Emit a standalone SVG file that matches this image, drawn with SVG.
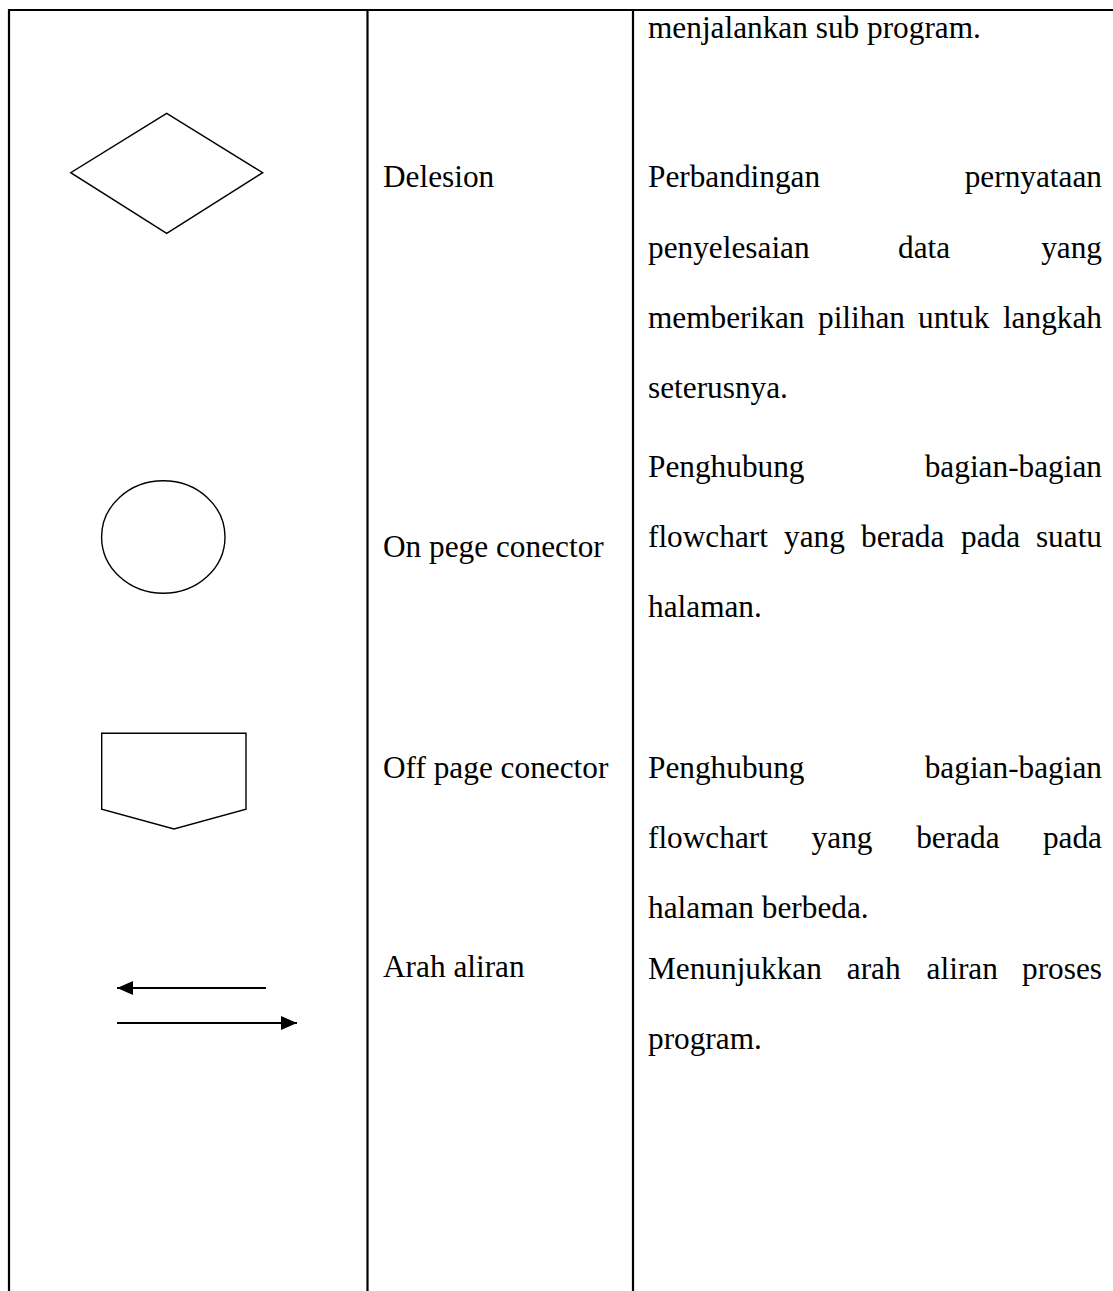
<svg xmlns="http://www.w3.org/2000/svg" width="1113" height="1291" viewBox="0 0 1113 1291">
  <style>
    .rule { stroke: #000; stroke-width: 2.2; fill: none; }
    .shape { stroke: #000; stroke-width: 1.4; fill: #fff; }
    .flow { stroke: #000; stroke-width: 2; fill: none; }
    text { font-family: "Liberation Serif", "Times New Roman", serif; font-size: 31.3px; fill: #000; }
    .r { text-anchor: end; }
  </style>
  <defs>
    <marker id="head" viewBox="0 0 16 14" refX="16" refY="7" markerWidth="16" markerHeight="14" markerUnits="userSpaceOnUse" orient="auto">
      <path d="M0,0 L16,7 L0,14 Z" fill="#000"/>
    </marker>
  </defs>

  <!-- table rules -->
  <g id="table">
    <line class="rule" x1="8" y1="10" x2="1113" y2="10"/>
    <line class="rule" x1="9" y1="9" x2="9" y2="1291"/>
    <line class="rule" x1="367.5" y1="9" x2="367.5" y2="1291"/>
    <line class="rule" x1="633" y1="9" x2="633" y2="1291"/>
  </g>

  <!-- carried-over description -->
  <g id="row-subprogram">
    <text x="648" y="38">menjalankan sub program.</text>
  </g>

  <!-- decision -->
  <g id="row-decision">
    <polygon class="shape" points="166.7,113.3 262.7,172.7 166.7,233.3 70.7,172.7"/>
    <text x="383" y="187">Delesion</text>
    <text x="648" y="187">Perbandingan</text>
    <text class="r" x="1102" y="187">pernyataan</text>
    <text x="648" y="258">penyelesaian</text>
    <text x="898" y="258">data</text>
    <text class="r" x="1102" y="258">yang</text>
    <text x="648" y="328">memberikan</text>
    <text x="818" y="328">pilihan</text>
    <text x="918" y="328">untuk</text>
    <text class="r" x="1102" y="328">langkah</text>
    <text x="648" y="398">seterusnya.</text>
  </g>

  <!-- on-page connector -->
  <g id="row-onpage">
    <ellipse class="shape" cx="163.3" cy="537" rx="61.7" ry="56.3"/>
    <text x="383" y="557">On pege conector</text>
    <text x="648" y="477">Penghubung</text>
    <text class="r" x="1102" y="477">bagian-bagian</text>
    <text x="648" y="547">flowchart</text>
    <text x="784" y="547">yang</text>
    <text x="861" y="547">berada</text>
    <text x="961" y="547">pada</text>
    <text class="r" x="1102" y="547">suatu</text>
    <text x="648" y="617">halaman.</text>
  </g>

  <!-- off-page connector -->
  <g id="row-offpage">
    <polygon class="shape" points="101.7,733.3 246,733.3 246,809.3 174,829 101.7,809.3"/>
    <text x="383" y="778">Off page conector</text>
    <text x="648" y="778">Penghubung</text>
    <text class="r" x="1102" y="778">bagian-bagian</text>
    <text x="648" y="848">flowchart</text>
    <text x="811.6" y="848">yang</text>
    <text x="916.2" y="848">berada</text>
    <text class="r" x="1102" y="848">pada</text>
    <text x="648" y="918">halaman berbeda.</text>
  </g>

  <!-- flow direction -->
  <g id="row-flow">
    <g id="connectors">
      <line class="flow" x1="266" y1="988" x2="117" y2="988" marker-end="url(#head)"/>
      <line class="flow" x1="117" y1="1023" x2="297" y2="1023" marker-end="url(#head)"/>
    </g>
    <text x="383" y="977">Arah aliran</text>
    <text x="648" y="979">Menunjukkan</text>
    <text x="846.8" y="979">arah</text>
    <text x="926.6" y="979">aliran</text>
    <text class="r" x="1102" y="979">proses</text>
    <text x="648" y="1049">program.</text>
  </g>
</svg>
